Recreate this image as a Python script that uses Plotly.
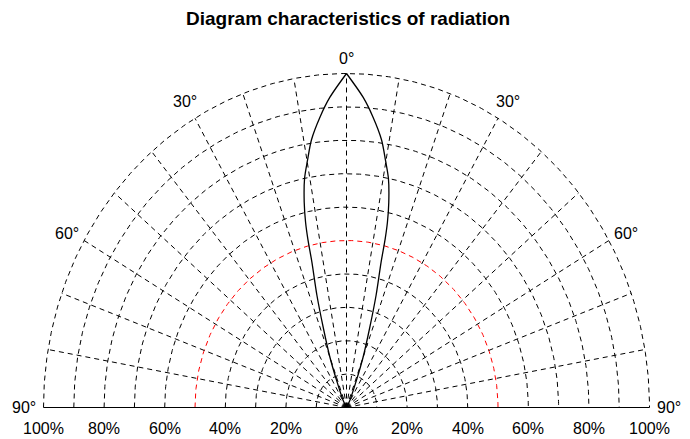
import numpy as np
import plotly.graph_objects as go

# ---- data ----
angle_deg = [0, 3.4, 5.7, 8.2, 9.9, 11.4, 12.8, 13.7, 14.2, 14.7, 16.2, 17.8, 20.0, 22.0, 27.5, 30.0]
intensity = [1.0, 0.93, 0.875, 0.81, 0.75, 0.70, 0.63, 0.57, 0.52, 0.45, 0.35, 0.25, 0.16, 0.086, 0.023, 0.0]

radial_ticks = [0.1, 0.2, 0.3, 0.4, 0.5, 0.6, 0.7, 0.8, 0.9, 1.0]
spoke_angles = [-80, -70, -60, -50, -40, -30, -20, -10, 0, 10, 20, 30, 40, 50, 60, 70, 80]
angle_labels = [0, 30, 60, 90]
pct_values = [-1.0, -0.8, -0.6, -0.4, -0.2, 0.0, 0.2, 0.4, 0.6, 0.8, 1.0]
pct_labels = ["100%", "80%", "60%", "40%", "20%", "0%", "20%", "40%", "60%", "80%", "100%"]
highlight_r = 0.5

FONT = "Arial, Liberation Sans, sans-serif"

def polar_xy(r, deg):
    t = np.radians(np.asarray(deg, dtype=float))
    return np.asarray(r) * np.sin(t), np.asarray(r) * np.cos(t)

fig = go.Figure()

# circles
phi = np.linspace(-90, 90, 361)
cx, cy, rx, ry = [], [], [], []
for r in radial_ticks:
    x, y = polar_xy(r, phi)
    if abs(r - highlight_r) < 1e-9:
        rx += list(x) + [None]; ry += list(y) + [None]
    else:
        cx += list(x) + [None]; cy += list(y) + [None]
fig.add_trace(go.Scatter(x=cx, y=cy, mode="lines", line=dict(color="black", width=1, dash="5px,4px"),
                         hoverinfo="skip", showlegend=False))
fig.add_trace(go.Scatter(x=rx, y=ry, mode="lines", line=dict(color="red", width=1, dash="5px,4px"),
                         hoverinfo="skip", showlegend=False))

# spokes
sx, sy = [], []
for a in spoke_angles:
    x, y = polar_xy([0, 1.0], [a, a])
    sx += list(x) + [None]; sy += list(y) + [None]
fig.add_trace(go.Scatter(x=sx, y=sy, mode="lines", line=dict(color="black", width=1, dash="5px,4px"),
                         hoverinfo="skip", showlegend=False))

# baseline
fig.add_trace(go.Scatter(x=[-1, 1], y=[0, 0], mode="lines", line=dict(color="black", width=1.2),
                         hoverinfo="skip", showlegend=False))

# radiation pattern (two halves)
for sign in (-1, 1):
    x, y = polar_xy(intensity, [sign * a for a in angle_deg])
    fig.add_trace(go.Scatter(x=x, y=y, mode="lines", line=dict(color="black", width=1.3, shape="spline", smoothing=0.8),
                             hoverinfo="skip", showlegend=False))

# angle labels
label_r = {0: 1.045, 30: 1.065, 60: 1.065, 90: 1.065}
label_yshift = {0: 0, 30: -2.5, 60: -4, 90: 0}
for a in angle_labels:
    for sign in ((1,) if a == 0 else (-1, 1)):
        x, y = polar_xy(label_r[a], sign * a)
        fig.add_annotation(x=float(x), y=float(y), xref="x", yref="y", text=f"{a}°", showarrow=False,
                           yshift=label_yshift[a],
                           font=dict(family=FONT, size=16, color="black"), xanchor="center", yanchor="middle")

# percent labels
for v, t in zip(pct_values, pct_labels):
    fig.add_annotation(x=v, y=-0.063, xref="x", yref="y", text=t, showarrow=False,
                       font=dict(family=FONT, size=16, color="black"), xanchor="center", yanchor="middle")

W, H = 690, 439
OFF = 8  # page body margin
# title
fig.add_annotation(x=(348 - OFF) / W, y=1 - (19 - OFF) / H, xref="paper", yref="paper",
                   text="<b>Diagram characteristics of radiation</b>", showarrow=False,
                   font=dict(family=FONT, size=19, color="black"), xanchor="center", yanchor="middle")

cxp, cyp, sxp, syp = 346.5 - OFF, 407.5 - OFF, 303.0, 334.0
fig.update_layout(
    width=W, height=H,
    margin=dict(l=0, r=0, t=0, b=0),
    paper_bgcolor="white", plot_bgcolor="white",
    xaxis=dict(range=[-cxp / sxp, (W - cxp) / sxp], visible=False, fixedrange=True),
    yaxis=dict(range=[-(H - cyp) / syp, cyp / syp], visible=False, fixedrange=True),
    showlegend=False,
)

fig.write_html("out.html")
